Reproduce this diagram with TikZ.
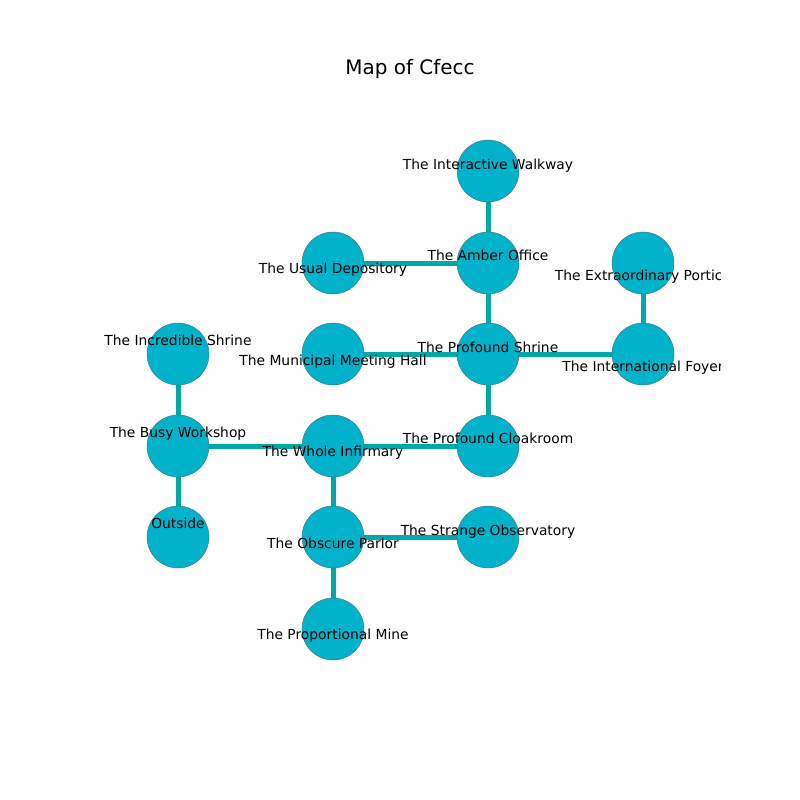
\documentclass[tikz,border=0pt]{standalone}
\usepackage{fontspec}
\setmainfont{DejaVu Sans}
\definecolor{nodefill}{RGB}{0,178,202}
\definecolor{edgecol}{RGB}{0,168,168}
\definecolor{nodeline}{RGB}{70,110,120}
\begin{document}
\begin{tikzpicture}[x=0.72bp,y=-0.72bp,
  room/.style={circle,fill=nodefill,draw=nodeline,line width=0.3pt,minimum size=62*0.72bp,inner sep=0pt},
  lbl/.style={anchor=base,inner sep=0pt,font=\fontsize{10pt}{12pt}\selectfont,text=black},
  link/.style={draw=edgecol,line width=3.6bp}]
\useasboundingbox (0,0) rectangle (800,800);
\node[anchor=base,inner sep=0pt,font=\fontsize{14.4pt}{17pt}\selectfont] (title) at (410,74) {Map of Cfecc};
\begin{scope}
\clip (100,96) rectangle (720,712);
\coordinate (iw) at (488,171);
\coordinate (ao) at (488,263);
\coordinate (ud) at (333,263);
\coordinate (ep) at (643,263);
\coordinate (is) at (178,354);
\coordinate (mh) at (333,354);
\coordinate (ps) at (488,354);
\coordinate (if) at (643,354);
\coordinate (bw) at (178,446);
\coordinate (wi) at (333,446);
\coordinate (pc) at (488,446);
\coordinate (ou) at (178,537);
\coordinate (op) at (333,537);
\coordinate (so) at (488,537);
\coordinate (pm) at (333,629);
\draw[link] (iw) -- (ao);
\draw[link] (ud) -- (ao);
\draw[link] (ao) -- (ps);
\draw[link] (ep) -- (if);
\draw[link] (mh) -- (ps);
\draw[link] (ps) -- (if);
\draw[link] (ps) -- (pc);
\draw[link] (is) -- (bw);
\draw[link] (bw) -- (wi);
\draw[link] (wi) -- (pc);
\draw[link] (bw) -- (ou);
\draw[link] (wi) -- (op);
\draw[link] (op) -- (so);
\draw[link] (op) -- (pm);
\foreach \n in {iw,ao,ud,ep,is,mh,ps,if,bw,wi,pc,ou,op,so,pm}
  \node[room] (c-\n) at (\n) {};
\node[lbl] (l-iw) at (488,169) {The Interactive Walkway};
\node[lbl] (l-ao) at (488,260) {The Amber Office};
\node[lbl] (l-ud) at (333,273) {The Usual Depository};
\node[lbl] (l-ep) at (643,280) {The Extraordinary Portico};
\node[lbl] (l-is) at (178,345) {The Incredible Shrine};
\node[lbl] (l-mh) at (333,365) {The Municipal Meeting Hall};
\node[lbl] (l-ps) at (488,352) {The Profound Shrine};
\node[lbl] (l-if) at (643,371) {The International Foyer};
\node[lbl] (l-bw) at (178,437) {The Busy Workshop};
\node[lbl] (l-wi) at (333,456) {The Whole Infirmary};
\node[lbl] (l-pc) at (488,443) {The Profound Cloakroom};
\node[lbl] (l-ou) at (178,528) {Outside};
\node[lbl] (l-op) at (333,548) {The Obscure Parlor};
\node[lbl] (l-so) at (488,535) {The Strange Observatory};
\node[lbl] (l-pm) at (333,639) {The Proportional Mine};
\end{scope}
\end{tikzpicture}
\end{document}
